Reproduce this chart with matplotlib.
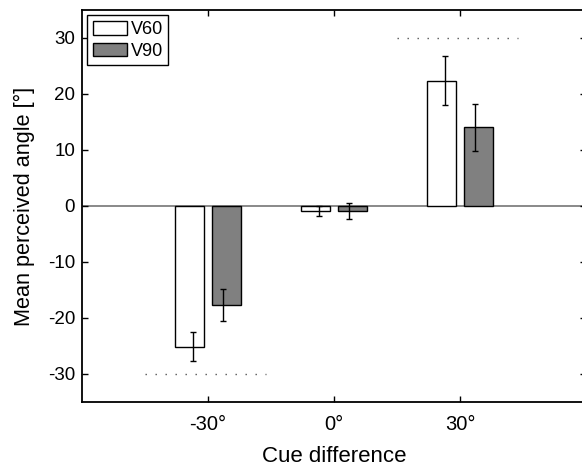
import numpy as np
import matplotlib
matplotlib.use('Agg')
import matplotlib.pyplot as plt

plt.rcParams['font.family'] = ['Liberation Sans', 'DejaVu Sans']
plt.rcParams['axes.unicode_minus'] = False

# データ
categories = ['-30°', '0°', '30°']
v60_mean = [-25.1, -0.9, 22.4]
v60_err = [2.65, 0.95, 4.45]
v90_mean = [-17.7, -0.95, 14.1]
v90_err = [2.8, 1.45, 4.2]
ref_levels = [-30, 30]
ref_cats = [0, 2]

x = np.arange(1, len(categories) + 1)
bar_w = 0.23
off = 0.143
err_off = 0.122

fig = plt.figure(figsize=(5.82, 4.68), dpi=100)
ax = fig.add_axes([82 / 582, 66 / 468, 504 / 582, 392 / 468])

# ゼロ線
ax.axhline(0, color='#808080', lw=1.3, zorder=1)

ax.bar(x - off, v60_mean, width=bar_w, color='white', edgecolor='black', lw=1.0, label='V60', zorder=2)
ax.bar(x + off, v90_mean, width=bar_w, color='#808080', edgecolor='black', lw=1.0, label='V90', zorder=2)
ax.errorbar(x - err_off, v60_mean, yerr=v60_err, fmt='none', ecolor='black', elinewidth=1.0, capsize=2.3, capthick=1.0, zorder=3)
ax.errorbar(x + err_off, v90_mean, yerr=v90_err, fmt='none', ecolor='black', elinewidth=1.0, capsize=2.3, capthick=1.0, zorder=3)

# 点線（参照値）
for lvl, c in zip(ref_levels, ref_cats):
    ax.plot([x[c] - 0.5, x[c] + 0.46], [lvl, lvl], color='#555555', lw=1.0, linestyle=(0, (1, 6.2)), zorder=1)

ax.set_xlim(0, 4)
ax.set_ylim(-35, 35)
ax.set_xticks(x)
ax.set_xticklabels(categories)
ax.set_yticks([-30, -20, -10, 0, 10, 20, 30])
ax.tick_params(direction='in', top=True, right=True, length=4, width=1.0)
ax.tick_params(axis='x', labelsize=14.5, pad=9)
ax.tick_params(axis='y', labelsize=13.5, pad=5)
for s in ax.spines.values():
    s.set_linewidth(1.3)

ax.set_xlabel('Cue difference', fontsize=16, labelpad=9)
ax.set_ylabel('Mean perceived angle [°]', fontsize=15.6, labelpad=9)

leg = ax.legend(loc='upper left', fontsize=13, fancybox=False, edgecolor='black', framealpha=1,
                handlelength=1.9, handleheight=0.8, handletextpad=0.2, borderpad=0.3,
                labelspacing=0.25, borderaxespad=0.3)
leg.get_frame().set_linewidth(1.0)

fig.savefig('out.png', dpi=100)
